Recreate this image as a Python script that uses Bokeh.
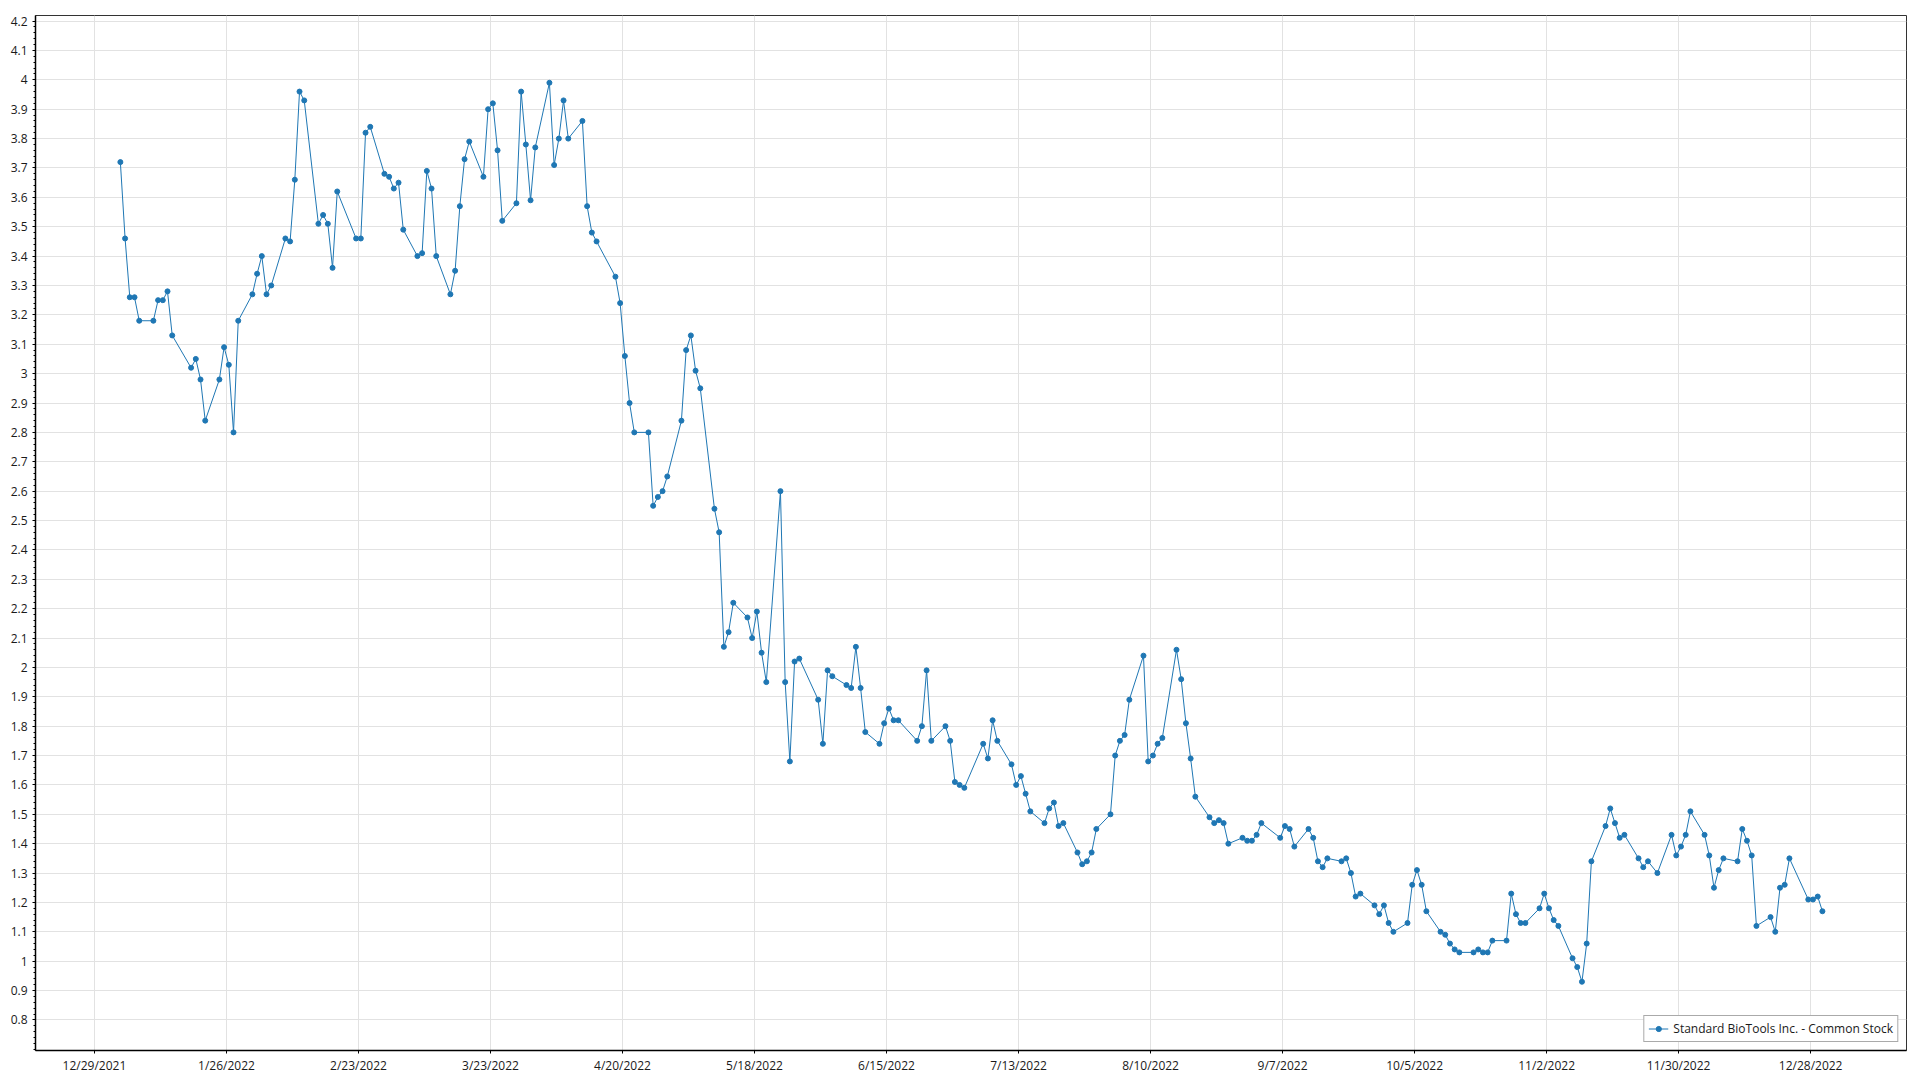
import pandas as pd
from datetime import datetime
from bokeh.plotting import figure
from bokeh.models import Range1d, FixedTicker, CustomJSTickFormatter, ColumnDataSource
from bokeh.embed import file_html
from bokeh.resources import INLINE

series_name = "Standard BioTools Inc. - Common Stock"

# trading calendar of 2022
first_day = "2022-01-03"
last_day = "2022-12-30"
market_holidays = ["2022-01-17", "2022-02-21", "2022-04-15", "2022-05-30", "2022-06-20",
                   "2022-07-04", "2022-09-05", "2022-11-24", "2022-12-26"]

# closing prices per month
jan = [3.72, 3.46, 3.26, 3.26, 3.18, 3.18, 3.25, 3.25, 3.28, 3.13,
       3.02, 3.05, 2.98, 2.84, 2.98, 3.09, 3.03, 2.80, 3.18, 3.27]
feb = [3.34, 3.40, 3.27, 3.30, 3.46, 3.45, 3.66, 3.96, 3.93, 3.51,
       3.54, 3.51, 3.36, 3.62, 3.46, 3.46, 3.82, 3.84, 3.68]
mar = [3.67, 3.63, 3.65, 3.49, 3.40, 3.41, 3.69, 3.63, 3.40, 3.27,
       3.35, 3.57, 3.73, 3.79, 3.67, 3.90, 3.92, 3.76, 3.52, 3.58,
       3.96, 3.78, 3.59]
apr = [3.77, 3.99, 3.71, 3.80, 3.93, 3.80, 3.86, 3.57, 3.48, 3.45,
       3.33, 3.24, 3.06, 2.90, 2.80, 2.80, 2.55, 2.58, 2.60, 2.65]
may = [2.84, 3.08, 3.13, 3.01, 2.95, 2.54, 2.46, 2.07, 2.12, 2.22,
       2.17, 2.10, 2.19, 2.05, 1.95, 2.60, 1.95, 1.68, 2.02, 2.03, 1.89]
jun = [1.74, 1.99, 1.97, 1.94, 1.93, 2.07, 1.93, 1.78, 1.74, 1.81,
       1.86, 1.82, 1.82, 1.75, 1.80, 1.99, 1.75, 1.80, 1.75, 1.61, 1.60]
jul = [1.59, 1.74, 1.69, 1.82, 1.75, 1.67, 1.60, 1.63, 1.57, 1.51,
       1.47, 1.52, 1.54, 1.46, 1.47, 1.37, 1.33, 1.34, 1.37, 1.45]
aug = [1.50, 1.70, 1.75, 1.77, 1.89, 2.04, 1.68, 1.70, 1.74, 1.76,
       2.06, 1.96, 1.81, 1.69, 1.56, 1.49, 1.47, 1.48, 1.47, 1.40,
       1.42, 1.41, 1.41]
sep = [1.43, 1.47, 1.42, 1.46, 1.45, 1.39, 1.45, 1.42, 1.34, 1.32,
       1.35, 1.34, 1.35, 1.30, 1.22, 1.23, 1.19, 1.16, 1.19, 1.13, 1.10]
oct_ = [1.13, 1.26, 1.31, 1.26, 1.17, 1.10, 1.09, 1.06, 1.04, 1.03,
        1.03, 1.04, 1.03, 1.03, 1.07, 1.07, 1.23, 1.16, 1.13, 1.13, 1.18]
nov = [1.23, 1.18, 1.14, 1.12, 1.01, 0.98, 0.93, 1.06, 1.34, 1.46,
       1.52, 1.47, 1.42, 1.43, 1.35, 1.32, 1.34, 1.30, 1.43, 1.36, 1.39]
dec = [1.43, 1.51, 1.43, 1.36, 1.25, 1.31, 1.35, 1.34, 1.45, 1.41,
       1.36, 1.12, 1.15, 1.10, 1.25, 1.26, 1.35, 1.21, 1.21, 1.22, 1.17]

prices = jan + feb + mar + apr + may + jun + jul + aug + sep + oct_ + nov + dec

x_tick_labels = ["12/29/2021", "1/26/2022", "2/23/2022", "3/23/2022", "4/20/2022",
                 "5/18/2022", "6/15/2022", "7/13/2022", "8/10/2022", "9/7/2022",
                 "10/5/2022", "11/2/2022", "11/30/2022", "12/28/2022"]
y_ticks = [0.8, 0.9, 1.0, 1.1, 1.2, 1.3, 1.4, 1.5, 1.6, 1.7, 1.8, 1.9, 2.0,
           2.1, 2.2, 2.3, 2.4, 2.5, 2.6, 2.7, 2.8, 2.9, 3.0, 3.1, 3.2, 3.3,
           3.4, 3.5, 3.6, 3.7, 3.8, 3.9, 4.0, 4.1, 4.2]

trading_days = pd.bdate_range(first_day, last_day, freq="C", holidays=market_holidays)
assert len(trading_days) == len(prices), (len(trading_days), len(prices))
dates = trading_days + pd.Timedelta(hours=12)

src = ColumnDataSource(dict(date=dates, price=prices))

epoch = pd.Timestamp("1970-01-01")
x_tick_ms = [float((pd.to_datetime(s, format="%m/%d/%Y") - epoch) // pd.Timedelta(milliseconds=1))
             for s in x_tick_labels]
y_minor = [round(0.70 + 0.02 * i, 2) for i in range(177)]

FONT = "Open Sans"
BLUE = "#1f77b4"

p = figure(width=1912, height=1078, x_axis_type="datetime",
           output_backend="svg", toolbar_location=None,
           x_range=Range1d(datetime(2021, 12, 16, 12), datetime(2023, 1, 17, 8)),
           y_range=Range1d(0.696, 4.219),
           min_border_left=35, min_border_right=6, min_border_top=15, min_border_bottom=28,
           background_fill_color="white", border_fill_color="white")

p.line("date", "price", source=src, line_color=BLUE, line_width=1, legend_label=series_name)
p.scatter("date", "price", source=src, size=5, fill_color=BLUE, line_color=BLUE,
          legend_label=series_name)

xt = FixedTicker(ticks=x_tick_ms, minor_ticks=[])
yt = FixedTicker(ticks=y_ticks, minor_ticks=y_minor)
p.xaxis.ticker = xt
p.yaxis.ticker = yt
p.xgrid.ticker = xt
p.ygrid.ticker = yt

p.xaxis.formatter = CustomJSTickFormatter(code="""
const d = new Date(tick);
return (d.getUTCMonth() + 1) + "/" + d.getUTCDate() + "/" + d.getUTCFullYear();
""")
p.yaxis.formatter = CustomJSTickFormatter(code="return String(Math.round(tick * 10) / 10);")

for ax in (p.xaxis[0], p.yaxis[0]):
    ax.axis_line_color = "black"
    ax.axis_line_width = 1.5
    ax.major_tick_line_color = "black"
    ax.major_tick_in = 0
    ax.major_tick_out = 3
    ax.minor_tick_in = 0
    ax.minor_tick_out = 2
    ax.minor_tick_line_color = "black"
    ax.major_label_text_font = FONT
    ax.major_label_text_font_size = "12px"
    ax.major_label_text_color = "#1a1a1a"
p.xaxis.major_label_standoff = 3
p.yaxis.major_label_standoff = 5
p.xaxis.minor_tick_line_color = None

p.xgrid.grid_line_color = "#e2e2e2"
p.ygrid.grid_line_color = "#e2e2e2"
p.outline_line_color = "#333333"
p.outline_line_width = 1

lg = p.legend[0]
lg.location = "bottom_right"
lg.margin = 8
lg.padding = 4
lg.spacing = 0
lg.label_text_font = FONT
lg.label_text_font_size = "12px"
lg.label_text_color = "#1a1a1a"
lg.glyph_width = 20
lg.glyph_height = 13
lg.label_height = 13
lg.label_standoff = 5
lg.border_line_color = "#555555"
lg.border_line_width = 1.5
lg.background_fill_color = "white"
lg.background_fill_alpha = 1.0

open("out.html", "w").write(file_html(p, INLINE))
